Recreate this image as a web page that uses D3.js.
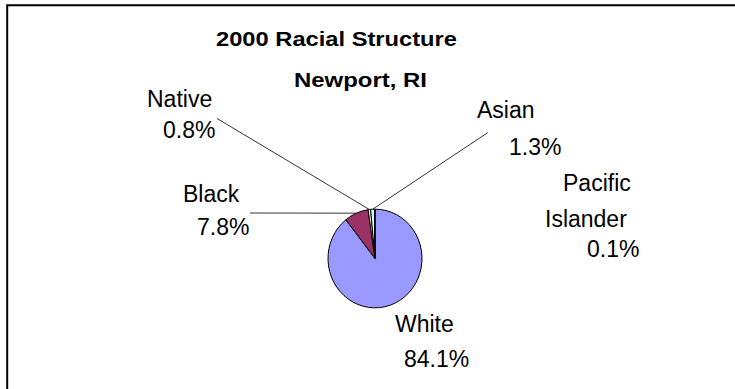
<!DOCTYPE html>
<html>
<head>
<meta charset="utf-8">
<script src="https://cdn.jsdelivr.net/npm/d3@7"></script>
<style>
  html, body { margin: 0; padding: 0; background: #fff; overflow: hidden; }
  svg { display: block; }
  text { font-family: "Liberation Sans", Arial, sans-serif; fill: #000; }
</style>
</head>
<body>
<svg id="chart" width="735" height="389"></svg>
<script>
// ---- data ----
const titleLines = ["2000 Racial Structure", "Newport, RI"];
const categories = ["White", "Black", "Native", "Asian", "Pacific Islander"];
const values = [84.1, 7.8, 0.8, 1.3, 0.1];
const colors = ["#9999FF", "#993366", "#FFFFCC", "#CCFFFF", "#660066"];
const hasLeader = [false, true, true, true, false];

// ---- layout (positions only) ----
const W = 735, H = 389;
const cx = 375, cy = 258.5, R = 47, yStretch = 1.05;
const labelLayout = {
  "White":            { lines: [[395, 332], [404, 367]] },
  "Black":            { lines: [[183, 202], [197, 235]], leader: [250, 213] },
  "Native":           { lines: [[147, 107], [163, 138]], leader: [217, 118.5] },
  "Asian":            { lines: [[477, 118], [509, 155]], leader: [487.7, 132.7] },
  "Pacific Islander": { lines: [[563, 191], [545, 227], [587, 257]] }
};

const svg = d3.select("#chart");

// frame: only top and left edges fall inside the picture
svg.append("path")
  .attr("d", `M7.2,${H + 10} L7.2,5.2 L${W + 10},5.2`)
  .attr("fill", "none").attr("stroke", "#000").attr("stroke-width", 2);

// titles
const titleSpec = [
  { x: 216, y: 46, len: 241 },
  { x: 294, y: 87, len: 133 }
];
titleLines.forEach((t, i) => {
  svg.append("text")
    .attr("x", titleSpec[i].x).attr("y", titleSpec[i].y)
    .attr("font-size", 20.5).attr("font-weight", "bold")
    .attr("textLength", titleSpec[i].len)
    .attr("lengthAdjust", "spacingAndGlyphs")
    .text(t);
});

// pie
const pie = d3.pie().sort(null).value(d => d)(values);
const arc = d3.arc().innerRadius(0).outerRadius(R);

const gPie = svg.append("g")
  .attr("transform", `translate(${cx},${cy}) scale(1,${yStretch})`);
gPie.selectAll("path")
  .data(pie)
  .join("path")
  .attr("d", arc)
  .attr("fill", (d, i) => colors[i])
  .attr("stroke", "#000")
  .attr("stroke-width", 1)
  .attr("vector-effect", "non-scaling-stroke")
  .attr("stroke-linejoin", "round");

// leader lines
pie.forEach((d, i) => {
  if (!hasLeader[i]) return;
  const lay = labelLayout[categories[i]];
  const a = (d.startAngle + d.endAngle) / 2;
  const px = cx + R * Math.sin(a);
  const py = cy - R * Math.cos(a) * yStretch;
  svg.append("line")
    .attr("x1", lay.leader[0]).attr("y1", lay.leader[1])
    .attr("x2", px).attr("y2", py)
    .attr("stroke", "#000").attr("stroke-width", 0.8);
});

// labels
const fmt = d3.format(".1f");
categories.forEach((c, i) => {
  const lay = labelLayout[c];
  const lines = c.split(" ").concat([fmt(values[i]) + "%"]);
  lines.forEach((ln, j) => {
    svg.append("text")
      .attr("x", lay.lines[j][0]).attr("y", lay.lines[j][1])
      .attr("font-size", 23)
      .text(ln);
  });
});
</script>
</body>
</html>
